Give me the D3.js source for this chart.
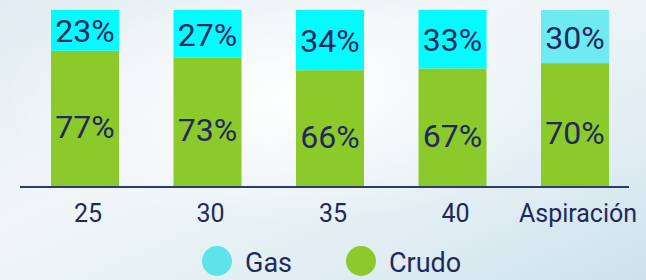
<!DOCTYPE html>
<html lang="es">
<head>
    <meta charset="utf-8">
    <meta name="viewport" content="width=device-width, initial-scale=1" />
    <title>Gas y crudo</title>
    <script src="https://d3js.org/d3.v7.min.js"></script>
<style>
    html, body { margin: 0; padding: 0; }
    body { width: 646px; height: 280px; overflow: hidden; font-family: Roboto, "Open Sans", sans-serif; }
</style>
</head>
<body>
  <div class="graphic-wrapper">
    <div id="chart1"></div>
  </div>

<script>

    // categories and shares (percent)
    const categories = ["25", "30", "35", "40", "Aspiración"]
    const gasValues = [23, 27, 34, 33, 30]
    const crudoValues = [77, 73, 66, 67, 70]
    const legendLabels = ["Gas", "Crudo"]

    const mixApp = {}

    mixApp.colors = {
        gas: "#00fcfc",
        gasAspiracion: "#6eeaf0",
        gasLegend: "#5ce4ea",
        crudo: "#8cc92a",
        text: "#1f2a5c",
        axis: "#2c3a72"
    }

    mixApp.buildChart = () => {

        d3.select('#chart1').html('')

        var width = 646,
            height = 280

        var svg = d3.select("#chart1")
            .append("svg")
            .attr("width", width)
            .attr("height", height)

        //////////
        // BACKGROUND //
        //////////

        var defs = svg.append("defs")
        var bg = defs.append("linearGradient")
            .attr("id", "bg")
            .attr("x1", "0").attr("y1", "0")
            .attr("x2", "1").attr("y2", "1")
        bg.append("stop").attr("offset", "0%").attr("stop-color", "#e2ecf2")
        bg.append("stop").attr("offset", "40%").attr("stop-color", "#f1f6f8")
        bg.append("stop").attr("offset", "75%").attr("stop-color", "#e0edf3")
        bg.append("stop").attr("offset", "100%").attr("stop-color", "#cce2ed")

        var glow = defs.append("radialGradient")
            .attr("id", "glow")
            .attr("cx", "0.45").attr("cy", "0.35").attr("r", "0.45")
        glow.append("stop").attr("offset", "0%").attr("stop-color", "#ffffff").attr("stop-opacity", 0.9)
        glow.append("stop").attr("offset", "100%").attr("stop-color", "#ffffff").attr("stop-opacity", 0)

        svg.append("rect").attr("width", width).attr("height", height).attr("fill", "url(#bg)")
        svg.append("rect").attr("width", width).attr("height", height).attr("fill", "url(#glow)")

        //////////
        // SCALES //
        //////////

        var x = d3.scaleBand()
            .domain(categories)
            .range([20, 640])
            .paddingInner(0.445)
            .paddingOuter(0.253)

        var y = d3.scaleLinear()
            .domain([0, 100])
            .range([187, 10])

        var data = categories.map(function(c, i) {
            return { cat: c, crudo: crudoValues[i], gas: gasValues[i] }
        })

        var stackedData = d3.stack().keys(["crudo", "gas"])(data)

        //////////
        // BARS //
        //////////

        var layers = svg.selectAll("g.layer")
            .data(stackedData)
            .enter()
            .append("g")
            .attr("class", function(d) { return "layer " + d.key })

        layers.selectAll("rect")
            .data(function(d) { return d.map(function(v) { v.key = d.key; return v }) })
            .enter()
            .append("rect")
            .attr("x", function(d) { return x(d.data.cat) })
            .attr("width", x.bandwidth())
            .attr("y", function(d) { return y(d[1]) })
            .attr("height", function(d) { return y(d[0]) - y(d[1]) })
            .attr("fill", function(d) {
                if (d.key === "crudo") return mixApp.colors.crudo
                return d.data.cat === "Aspiración" ? mixApp.colors.gasAspiracion : mixApp.colors.gas
            })

        // labels
        layers.selectAll("text")
            .data(function(d) { return d })
            .enter()
            .append("text")
            .attr("x", function(d) { return x(d.data.cat) + x.bandwidth() / 2 })
            .attr("y", function(d) {
                var mid = (y(d[0]) + y(d[1])) / 2
                return d.key === "crudo" ? mid + 8 : mid + 1
            })
            .attr("text-anchor", "middle")
            .attr("dominant-baseline", "central")
            .style("font-size", "32px")
            .style("fill", mixApp.colors.text)
            .text(function(d) { return d.data[d.key] + "%" })

        //////////
        // AXIS //
        //////////

        svg.append("line")
            .attr("x1", x.range()[0])
            .attr("x2", 629)
            .attr("y1", y(0))
            .attr("y2", y(0))
            .attr("stroke", mixApp.colors.axis)
            .attr("stroke-width", 2)

        svg.selectAll("text.tick")
            .data(categories)
            .enter()
            .append("text")
            .attr("class", "tick")
            .attr("x", function(d) { return x(d) + x.bandwidth() / 2 + 3 })
            .attr("y", 222)
            .attr("text-anchor", "middle")
            .style("font-size", "25px")
            .style("fill", mixApp.colors.text)
            .text(function(d) { return d })

        //////////
        // LEGEND //
        //////////

        var legendColors = [mixApp.colors.gasLegend, mixApp.colors.crudo]
        var legendX = [217, 361]

        var legend = svg.selectAll("g.legend")
            .data(legendLabels)
            .enter()
            .append("g")
            .attr("class", "legend")
            .attr("transform", function(d, i) { return "translate(" + legendX[i] + ",261)" })

        legend.append("circle")
            .attr("r", 15)
            .attr("fill", function(d, i) { return legendColors[i] })

        legend.append("text")
            .attr("x", 28)
            .attr("y", 11)
            .style("font-size", "27px")
            .style("fill", mixApp.colors.text)
            .text(function(d) { return d })
    }

    mixApp.buildChart()

</script>
</body>
</html>
